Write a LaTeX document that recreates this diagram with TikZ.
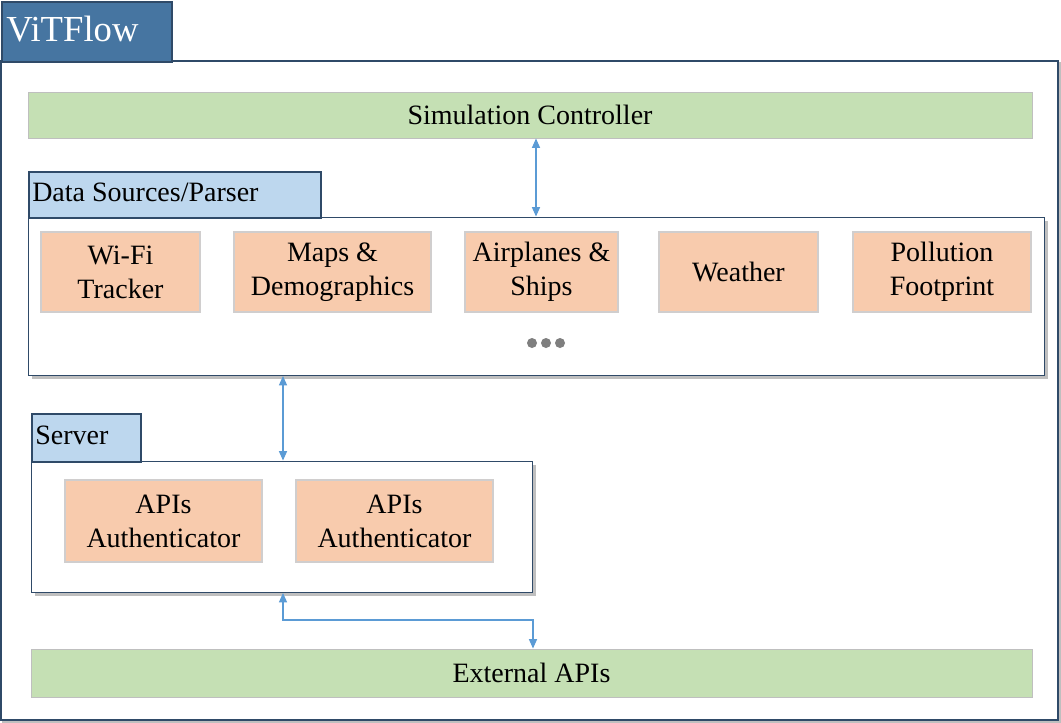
\documentclass[tikz,border=0pt]{standalone}
\usepackage{fontspec}
\setmainfont{Liberation Serif}
\usetikzlibrary{arrows.meta}
\definecolor{titlefill}{HTML}{4675A1}
\definecolor{darkedge}{HTML}{2F4A68}
\definecolor{tabfill}{HTML}{BDD7EE}
\definecolor{greenfill}{HTML}{C5E0B4}
\definecolor{orangefill}{HTML}{F8CBAD}
\definecolor{orangeedge}{HTML}{D0CECE}
\definecolor{arrowblue}{HTML}{5B9BD5}
\definecolor{shadowgray}{HTML}{BFBFBF}
\definecolor{dotgray}{HTML}{7F7F7F}
\tikzset{
  bar/.style={fill=greenfill, draw=shadowgray, line width=0.6pt, font=\fontsize{21}{25}\selectfont},
  tabbox/.style={fill=tabfill, draw=darkedge, line width=1.2pt, anchor=north west, inner sep=0pt},
  tabtext/.style={anchor=west, inner sep=0pt, font=\fontsize{21}{25}\selectfont},
  container/.style={fill=white, draw=darkedge, line width=0.9pt},
  srcbox/.style={fill=orangefill, draw=orangeedge, line width=0.8pt, align=center, font=\fontsize{21}{25.5}\selectfont},
  link/.style={draw=arrowblue, line width=0.9pt, {Triangle[length=7pt,width=6pt]}-{Triangle[length=7pt,width=6pt]}},
  dot/.style={circle, fill=dotgray, inner sep=0pt, minimum size=7.5pt}
}
\begin{document}
\begin{tikzpicture}[x=0.75pt,y=-0.75pt]
\useasboundingbox (0,0) rectangle (1061,722);
% outer frame
\draw[shadowgray, line width=1.2pt] (3,63) rectangle (1060,722);
\draw[darkedge, line width=0.9pt, fill=white] (1,61) rectangle (1058,720);
% title
\node[fill=titlefill, draw=darkedge, line width=1.2pt, minimum width=170*0.75pt, minimum height=60*0.75pt, anchor=north west, inner sep=0pt] (title) at (1,1) {};
\node[anchor=west, text=white, font=\fontsize{27.5}{30}\selectfont, inner sep=0pt] (titletext) at (6,29) {ViTFlow};
% simulation controller
\node[bar, minimum width=1004*0.75pt, minimum height=46*0.75pt, inner sep=0pt] (sim) at (530,115) {Simulation Controller};
% data sources container
\fill[shadowgray] (32,221) rectangle (1048,379);
\node[container, minimum width=1016*0.75pt, minimum height=158*0.75pt, anchor=north west, inner sep=0pt] (data) at (28,217) {};
\node[tabbox, minimum width=292*0.75pt, minimum height=46*0.75pt] (datatab) at (28,171) {};
\node[tabtext] (datatabtext) at (32,192) {Data Sources/Parser};
% source boxes
\node[srcbox, minimum width=159*0.75pt, minimum height=80*0.75pt] (wifi) at (120.5,272) {Wi-Fi\\Tracker};
\node[srcbox, minimum width=197*0.75pt, minimum height=80*0.75pt] (maps) at (332.5,272) {Maps \&\\Demographics};
\node[srcbox, minimum width=153*0.75pt, minimum height=80*0.75pt] (air) at (541.5,272) {Airplanes \&\\Ships};
\node[srcbox, minimum width=159*0.75pt, minimum height=80*0.75pt] (weather) at (738.5,272) {Weather};
\node[srcbox, minimum width=178*0.75pt, minimum height=80*0.75pt] (poll) at (942,272) {Pollution\\Footprint};
\node[dot] (d1) at (532,343) {};
\node[dot] (d2) at (546,343) {};
\node[dot] (d3) at (560,343) {};
% server container
\fill[shadowgray] (35,465) rectangle (536,596);
\node[container, minimum width=501*0.75pt, minimum height=131*0.75pt, anchor=north west, inner sep=0pt] (server) at (31,461) {};
\node[tabbox, minimum width=109*0.75pt, minimum height=48*0.75pt] (servertab) at (31,413) {};
\node[tabtext] (servertabtext) at (35,435) {Server};
\node[srcbox, minimum width=197*0.75pt, minimum height=82*0.75pt] (auth1) at (163.5,521) {APIs\\Authenticator};
\node[srcbox, minimum width=197*0.75pt, minimum height=82*0.75pt] (auth2) at (394.5,521) {APIs\\Authenticator};
% external APIs
\node[bar, minimum width=1001*0.75pt, minimum height=48*0.75pt, inner sep=0pt] (ext) at (531.5,673) {External APIs};
% connectors
\coordinate (c1) at (536,138.5);
\coordinate (c2) at (536,216.5);
\draw[link] (c1) -- (c2);
\coordinate (c3) at (283,376);
\coordinate (c4) at (283,460.5);
\draw[link] (c3) -- (c4);
\coordinate (c5) at (283,593);
\coordinate (c6) at (533,648.5);
\draw[link] (c5) |- (533,620) -- (c6);
\end{tikzpicture}
\end{document}
